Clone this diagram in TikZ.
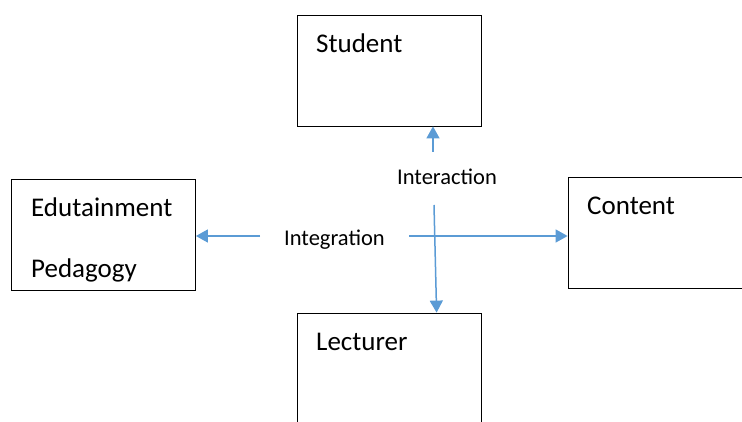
\documentclass[tikz,border=0pt]{standalone}
\usepackage{fontspec}
\setmainfont{Carlito}
\usetikzlibrary{positioning,arrows.meta,calc}
\definecolor{flowblue}{RGB}{91,155,213}
\tikzset{
box/.style={
  draw,
  thick,
  rectangle,
  minimum width=184pt,
  minimum height=111pt,
  inner sep=0pt
  },
boxlabel/.style={
  anchor=base west,
  inner sep=0pt,
  font=\fontsize{27}{32}\selectfont
  },
flowlabel/.style={
  anchor=base west,
  inner sep=0pt,
  font=\fontsize{22.5}{27}\selectfont
  },
flow/.style={
  draw=flowblue,
  line width=1.5pt,
  -{Triangle[length=12pt,width=13pt]}
  }
}

\begin{document}
\begin{tikzpicture}[x=1pt, y=-1pt]
  \useasboundingbox (0,0) rectangle (742,422);
  \clip (0,0) rectangle (742,422);

  % the four boxes
  \node[box] (student)  at (389,70.5)  {};
  \node[box] (pedagogy) at (103.5,235) {};
  \node[box] (content)  at (660,233)   {};
  \node[box] (lecturer) at (389,368.5) {};

  \node[boxlabel] (studentlabel)  at (316,53)  {Student};
  \node[boxlabel] (edulabel)      at (31,217)  {Edutainment};
  \node[boxlabel] (pedlabel)      at (31,278)  {Pedagogy};
  \node[boxlabel] (contentlabel)  at (587,215) {Content};
  \node[boxlabel] (lecturerlabel) at (316,350) {Lecturer};

  \node[flowlabel] (interaction) at (397,185) {Interaction};
  \node[flowlabel] (integration) at (284,246) {Integration};

  % free ends of the arrows
  \coordinate (upstart)    at (433,152);
  \coordinate (downstart)  at (434,205);
  \coordinate (downend)    at ($(lecturer.north west)+(140,0)$);
  \coordinate (leftstart)  at (260,236);
  \coordinate (rightstart) at (409,236);

  \draw[flow] (upstart) -- (upstart |- student.south);
  \draw[flow] (downstart) -- (downend);
  \draw[flow] (leftstart) -- (leftstart -| pedagogy.east);
  \draw[flow] (rightstart) -- (rightstart -| content.west);

\end{tikzpicture}
\end{document}
